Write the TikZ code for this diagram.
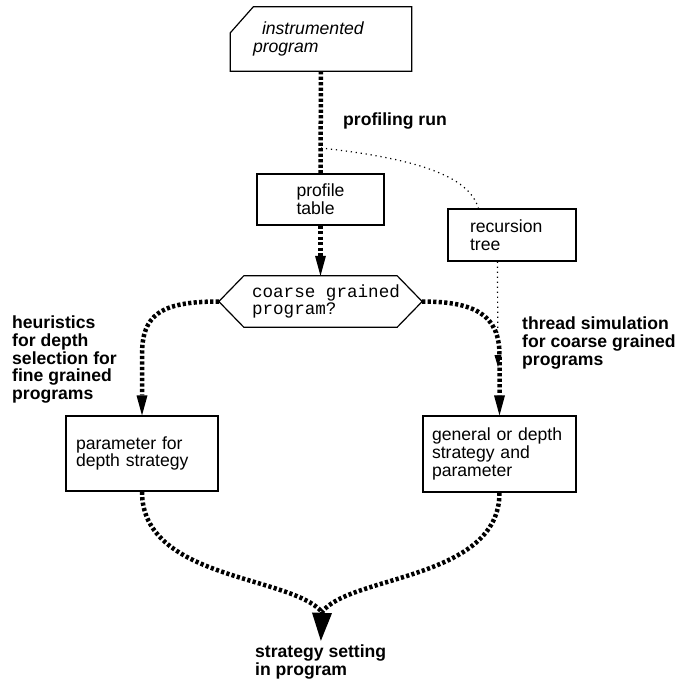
\documentclass[tikz,border=0pt]{standalone}
\usepackage{fontspec}
\setmainfont{Liberation Sans}
\setmonofont{Liberation Mono}
\usetikzlibrary{arrows.meta,calc}
\tikzset{
 box/.style={draw, line width=1.2pt, inner sep=0pt, align=left, font=\fontsize{17.6}{17.7}\selectfont},
 lab/.style={inner sep=0pt, anchor=base west, align=left, font=\fontsize{17.6}{17.7}\selectfont\bfseries},
 outline/.style={line width=1.2pt},
 thickdot/.style={line width=4.5pt, dash pattern=on 3.2pt off 2.3pt},
 thindot/.style={line width=1.2pt, dash pattern=on 1.2pt off 3.8pt},
 midtip/.style={-{Triangle[width=11pt,length=20pt,line width=0pt]}},
 bigtip/.style={-{Triangle[width=20pt,length=28pt,line width=0pt]}},
 smalltip/.style={-{Triangle[width=7pt,length=12pt,line width=0pt]}},
}
\begin{document}
\begin{tikzpicture}[x=1pt,y=-1pt]
\useasboundingbox (0,0) rectangle (678,681);
% instrumented program
\node (ip) [inner sep=0pt, minimum width=181pt, minimum height=64pt, text width=136pt, align=left, font=\fontsize{17.6}{17.7}\selectfont\itshape] at (321,39) {\hspace*{9pt}\raisebox{-2pt}{instrumented}\\\raisebox{-2pt}{program}};
\draw[outline] ($(ip.north west)+(23,0)$) -- (ip.north east) -- (ip.south east) -- (ip.south west) -- ($(ip.north west)+(0,26)$) -- cycle;
% boxes
\node (pt) [box, minimum width=127pt, minimum height=51pt] at (320.5,199.5) {profile\\table};
\node (rt) [box, minimum width=128pt, minimum height=52pt, text width=84pt] at (512,235) {recursion\\tree};
\node (hex) [inner sep=0pt, minimum width=203pt, minimum height=51pt, align=left, font=\fontsize{17.6}{17.7}\selectfont\ttfamily] at (320.5,301.5) {\hspace*{11pt}coarse grained\\\hspace*{11pt}program?};
\draw[outline] (hex.west) -- ($(hex.north west)+(25,0)$) -- ($(hex.north east)+(-25,0)$) -- (hex.east) -- ($(hex.south east)+(-25,0)$) -- ($(hex.south west)+(25,0)$) -- cycle;
\node (lb) [box, minimum width=152pt, minimum height=75pt, text width=132pt] at (142,453.5) {parameter for\\depth strategy};
\node (rb) [box, minimum width=153pt, minimum height=76pt, text width=135pt] at (499.5,454) {general or depth\\strategy and\\parameter};
% labels (base = baseline of last line)
\node (l1) [lab] at (343,125) {profiling run};
\node (l2) [lab] at (12,399.5) {heuristics\\for depth\\selection for\\fine grained\\programs};
\node (l3) [lab] at (522,365) {thread simulation\\for coarse grained\\programs};
\node (out) [lab] at (255,675.5) {strategy setting\\in program};
% connectors
\coordinate (split) at (321,148);
\draw[thickdot] (ip.south) -- (pt.north);
\draw[thindot] (split) .. controls (430,160) and (470,180) .. ($(rt.north west)+(31,0)$);
\draw[thickdot, midtip] (pt.south) -- (hex.north);
\draw[thickdot, midtip] (hex.west) .. controls (160,301.5) and (142,315) .. (142,355) -- (lb.north);
\draw[thickdot, midtip] (hex.east) .. controls (475,301.5) and (499.5,315) .. (499.5,355) -- (rb.north);
\coordinate (rtend) at (498,367);
\draw[thindot, smalltip] ($(rt.south west)+(50,0)$) -- (rtend);
\coordinate (m) at (322,612);
\draw[thickdot] (lb.south) .. controls (142,580) and (290,575) .. (m);
\draw[thickdot] (rb.south) .. controls (499.5,580) and (350,575) .. (m);
\draw[thickdot, bigtip, shorten >=4pt] (m) -- (out.north);
\end{tikzpicture}
\end{document}
